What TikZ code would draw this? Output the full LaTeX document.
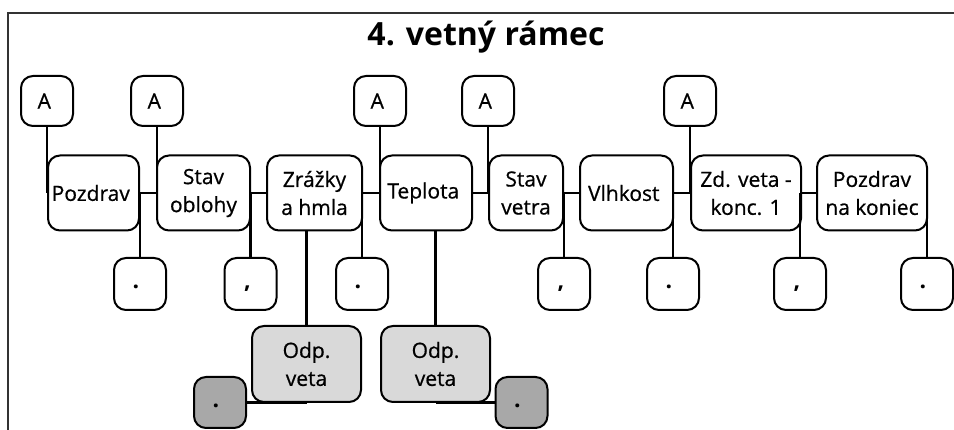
\documentclass[tikz,border=0pt]{standalone}
\usepackage{fontspec}
\setmainfont{Open Sans}
\newfontfamily\pismo{Open Sans}[FakeBold=0.7]

\begin{document}
\begin{tikzpicture}[x=1pt,y=-1pt,line width=2.2pt,
  every node/.style={draw,line width=2pt,rounded corners=12pt,align=center,inner sep=1pt,font=\fontsize{21}{28}\pismo},
  abox/.style={minimum width=52pt,minimum height=50pt},
  slovo/.style={minimum height=75pt},
  znak/.style={minimum width=52pt,minimum height=52pt,text height=16pt,text depth=6pt,font=\fontsize{23}{28}\bfseries},
  odp/.style={fill=gray!30,minimum width=109pt,minimum height=76pt},
  odpznak/.style={znak,fill=gray!68,minimum height=51pt}]
\useasboundingbox (0,0) rectangle (954,430);
\draw[black!80] (8,430) -- (8,13) -- (954,13);
\node[draw=none] (nadpis) at (486,37) {\fontsize{32}{38}\selectfont\rmfamily\bfseries 4. vetný rámec};
\node[abox]               (a1) at (47,101)    { A };
\node[abox]               (a2) at (157,101)   { A };
\node[abox]               (a3) at (380,101)   { A };
\node[abox]               (a4) at (488,101)   { A };
\node[abox]               (a5) at (690,101)   { A };
\node[slovo,minimum width=91pt]  (pozdrav) at (93.5,193)  { Pozdrav };
\node[slovo,minimum width=93pt]  (oblohy)  at (203.5,193) { Stav\\oblohy };
\node[slovo,minimum width=95pt]  (zrazky)  at (314.5,193) { Zrážky\\a hmla };
\node[slovo,minimum width=92pt]  (teplota) at (426,193)   { Teplota };
\node[slovo,minimum width=74pt]  (vetra)   at (526,193)   { Stav\\vetra };
\node[slovo,minimum width=93pt]  (vlhkost) at (626.5,193) { Vlhkost };
\node[slovo,minimum width=110pt] (zdveta)  at (746,193)   { Zd. veta -\\konc. 1 };
\node[slovo,minimum width=110pt] (koniec)  at (872,193)   { Pozdrav\\na koniec };
\node[znak]               (z1) at (140,284)   { . };
\node[znak]               (z2) at (250.5,284) { , };
\node[znak]               (z3) at (362,284)   { . };
\node[znak]               (z4) at (564,284)   { , };
\node[znak]               (z5) at (673,284)   { . };
\node[znak]               (z6) at (800,284)   { , };
\node[znak]               (z7) at (927,284)   { . };
\node[odp]                (o1) at (306.5,364) { Odp.\\veta };
\node[odp]                (o2) at (435.5,364) { Odp.\\veta };
\node[odpznak]            (d1) at (220,402.5) { . };
\node[odpznak]            (d2) at (521.5,402.5) { . };
\draw             (pozdrav) edge (oblohy);
\draw             (oblohy) edge (zrazky);
\draw             (zrazky) edge (teplota);
\draw             (teplota) edge (vetra);
\draw             (vetra) edge (vlhkost);
\draw             (vlhkost) edge (zdveta);
\draw             (zdveta) edge (koniec);
\draw             (a1.south) edge (a1.south |- pozdrav.west);
\draw             (a2.south) edge (a2.south |- oblohy.west);
\draw             (a3.south) edge (a3.south |- teplota.west);
\draw             (a4.south) edge (a4.south |- vetra.west);
\draw             (a5.south) edge (a5.south |- zdveta.west);
\draw             (z1.north) edge (z1.north |- pozdrav.east);
\draw             (z2.north) edge (z2.north |- oblohy.east);
\draw             (z3.north) edge (z3.north |- zrazky.east);
\draw             (z4.north) edge (z4.north |- vetra.east);
\draw             (z5.north) edge (z5.north |- vlhkost.east);
\draw             (z6.north) edge (z6.north |- zdveta.east);
\draw             (z7.north) edge (z7.north |- koniec.east);
\draw             (o1.north) edge (o1.north |- zrazky.south);
\draw             (o2.north) edge (o2.north |- teplota.south);
\draw             (d1.east) edge (d1.east -| o1.south);
\draw             (d2.west) edge (d2.west -| o2.south);
\end{tikzpicture}
\end{document}
